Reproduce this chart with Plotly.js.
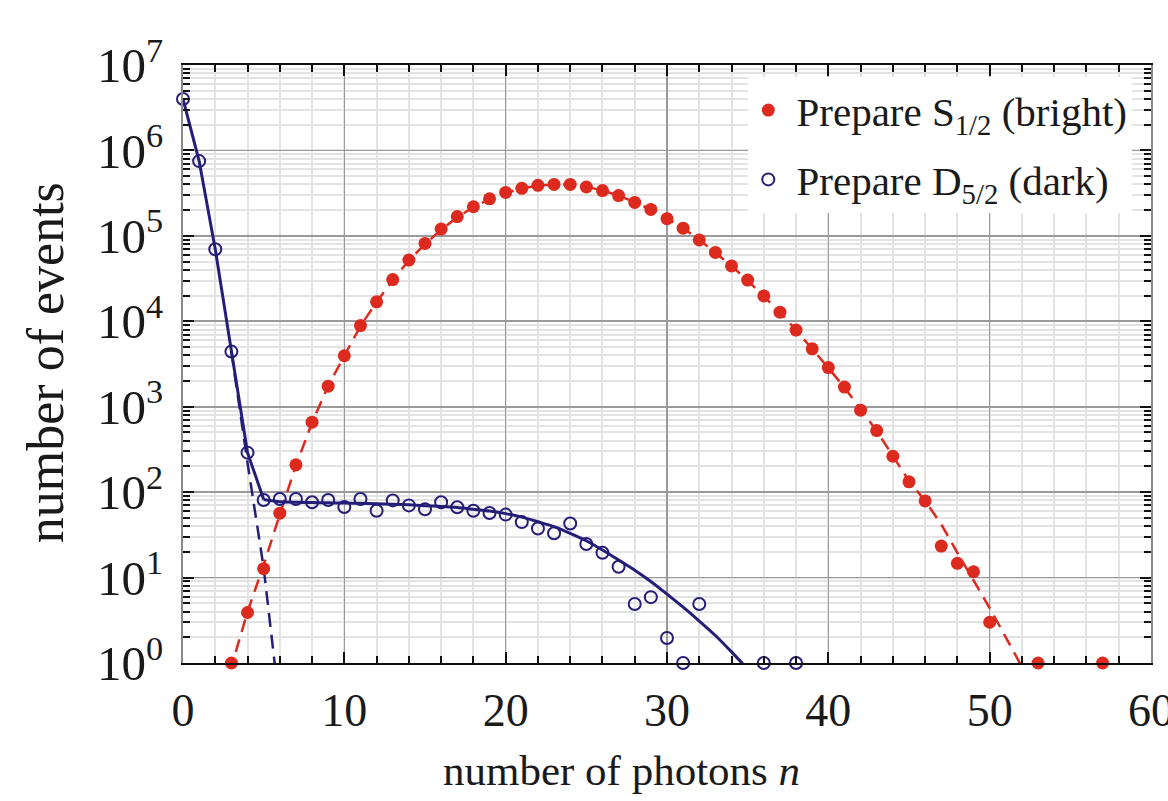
<!DOCTYPE html>
<html>
<head>
<meta charset="utf-8">
<script src="https://cdn.plot.ly/plotly-3.0.1.min.js"></script>
<style>html,body{margin:0;padding:0;background:#fff;}#chart{width:1168px;height:801px;}</style>
</head>
<body>
<div id="chart"></div>
<script>
// Measured data: prepare S1/2 (bright)
const brightN = [3,4,5,6,7,8,9,10,11,12,13,14,15,16,17,18,19,20,21,22,23,24,25,26,27,28,29,30,31,32,33,34,35,36,37,38,39,40,41,42,43,44,45,46,47,48,49,50,53,57];
const brightCounts = [1,3.9,12.7,56.8,209,660,1740,3950,8900,16900,30800,52000,81600,120000,168000,219000,271000,322000,360000,390000,400000,400000,373000,339000,296000,246000,204000,159000,123000,89500,64000,44500,30400,19800,12800,7900,4760,2870,1700,910,525,263,132,79,23.4,14.7,11.7,3.0,1,1];

// Measured data: prepare D5/2 (dark)
const darkN = [0,1,2,3,4,5,6,7,8,9,10,11,12,13,14,15,16,17,18,19,20,21,22,23,24,25,26,27,28,29,30,31,32,36,38];
const darkCounts = [4.0e6,7.5e5,69600,4420,290,81,83,83,76,81,67,83,60.5,80,70,63,76,66.5,60.5,57,54.6,44.6,37.5,33,43,24.7,19.5,13.4,4.9,5.9,1.96,1,4.9,1,1];

// Fit curves
const brightFitN = [2,3,4,5,6,7,8,9,10,11,12,13,14,15,16,17,18,19,20,21,22,23,24,25,26,27,28,29,30,31,32,33,34,35,36,37,38,39,40,41,42,43,44,45,46,47,48,49,50,51,52];
const brightFit = [0.15,0.9,4.0,14,55,205,650,1750,3950,8800,16800,30500,51500,80000,118000,165000,217000,268000,318000,358000,388000,400000,398000,376000,340000,296000,247000,203000,160000,123000,90000,64000,44500,30000,19800,12800,7900,4800,2850,1680,920,520,265,135,79,42,19.5,9.3,4.4,2.0,0.9];

// dark fit: steep part (n = 0..5) and slow tail (n = 5..35)
const darkFitHeadN = [0,1,2,3,4,5];
const darkFitHead = [4.0e6,7.5e5,69600,4420,290,82];
const darkFitTailN = [5,6,7,8,9,10,11,12,13,14,15,16,17,18,19,20,21,22,23,24,25,26,27,28,29,30,31,32,33,34,35];
const darkFitTail = [82,77,76,75.5,75,74.5,74,73,72,71,69.5,68,66,63,60,56,51,45,39.5,33,27,21,16,12.2,9,6.4,4.5,3.1,2.1,1.35,0.85];

const darkPoissonN = [3,4,5,6];
const darkPoisson = [4420,220,13,0.3];

const xTicks = [0,10,20,30,40,50,60];
const xTickText = ['0','10','20','30','40','50','60'];
const yTicks = [1,10,100,1000,1e4,1e5,1e6,1e7];
const yTickText = ['10<sup>0</sup>','10<sup>1</sup>','10<sup>2</sup>','10<sup>3</sup>','10<sup>4</sup>','10<sup>5</sup>','10<sup>6</sup>','10<sup>7</sup>'];

const xTitle = 'number of photons <i>n</i>';
const yTitle = 'number of events';
const legendBright = '\u2009Prepare S<sub>1/2</sub> (bright)';
const legendDark = '\u2009Prepare D<sub>5/2</sub> (dark)';

const RED = '#dc2a1f';
const BLUE = '#251e78';
const FONT = 'Liberation Serif, Times New Roman, serif';
const INK = '#1a1a1a';

const traces = [
  {x: brightFitN, y: brightFit, mode: 'lines', line: {color: RED, width: 2.5, dash: '13px,8px'}, showlegend: false, hoverinfo: 'skip'},
  {x: darkPoissonN, y: darkPoisson, mode: 'lines', line: {color: BLUE, width: 2.5, dash: '14px,8px'}, showlegend: false, hoverinfo: 'skip'},
  {x: darkFitHeadN, y: darkFitHead, mode: 'lines', line: {color: BLUE, width: 3}, showlegend: false, hoverinfo: 'skip'},
  {x: darkFitTailN, y: darkFitTail, mode: 'lines', line: {color: BLUE, width: 3, shape: 'spline', smoothing: 0.6}, showlegend: false, hoverinfo: 'skip'},
  {x: brightN, y: brightCounts, mode: 'markers', name: legendBright, legendgroup: 'a',
   marker: {color: RED, size: 13, symbol: 'circle', line: {width: 0}}, cliponaxis: false},
  {x: darkN, y: darkCounts, mode: 'markers', name: legendDark, legendgroup: 'b',
   marker: {color: BLUE, size: 12, symbol: 'circle-open', line: {color: BLUE, width: 2}}, cliponaxis: false}
];

const layout = {
  width: 1168, height: 801,
  margin: {l: 183, r: 17, t: 65, b: 138},
  paper_bgcolor: '#fff', plot_bgcolor: '#fff',
  font: {family: FONT, color: INK},
  xaxis: {
    range: [0, 60], tickvals: xTicks, ticktext: xTickText,
    ticks: 'inside', ticklen: 11, tickwidth: 2, tickcolor: '#111',
    showline: true, linecolor: '#111', linewidth: 2, mirror: 'ticks',
    showgrid: true, gridcolor: '#9a9a9a', gridwidth: 1.6, zeroline: false,
    tickfont: {family: FONT, size: 46, color: INK}, ticklabelstandoff: 6,
    ticklabeloverflow: 'allow',
    minor: {dtick: 2, ticks: 'inside', ticklen: 7, tickwidth: 2, tickcolor: '#111', showgrid: true, gridcolor: '#e3e3e3', gridwidth: 2}
  },
  yaxis: {
    type: 'log', range: [0, 7], tickvals: yTicks, ticktext: yTickText,
    ticks: 'inside', ticklen: 11, tickwidth: 2, tickcolor: '#111',
    showline: true, linecolor: '#8a8a8a', linewidth: 2, mirror: 'ticks',
    showgrid: true, gridcolor: '#9a9a9a', gridwidth: 1.6, zeroline: false,
    tickfont: {family: FONT, size: 49, color: INK}, ticklabelstandoff: 8,
    ticklabeloverflow: 'allow',
    minor: {dtick: 'D1', ticks: 'inside', ticklen: 7, tickwidth: 2, tickcolor: '#111', showgrid: true, gridcolor: '#e3e3e3', gridwidth: 2}
  },
  annotations: [
    {text: xTitle, xref: 'paper', yref: 'paper', x: 0.4535, y: -0.179, xanchor: 'center', yanchor: 'middle',
     showarrow: false, font: {family: FONT, size: 43, color: INK}},
    {text: yTitle, xref: 'paper', yref: 'paper', x: -0.1426, y: 0.503, xanchor: 'center', yanchor: 'middle',
     textangle: -90, showarrow: false, font: {family: FONT, size: 52, color: INK}}
  ],
  legend: {
    x: 0.584, y: 0.98, xanchor: 'left', yanchor: 'top',
    bgcolor: '#ffffff', borderwidth: 0,
    font: {family: FONT, size: 41, color: INK},
    tracegroupgap: 13, itemwidth: 30
  },
  showlegend: true
};

Plotly.newPlot('chart', traces, layout, {displayModeBar: false, staticPlot: true});
</script>
</body>
</html>
